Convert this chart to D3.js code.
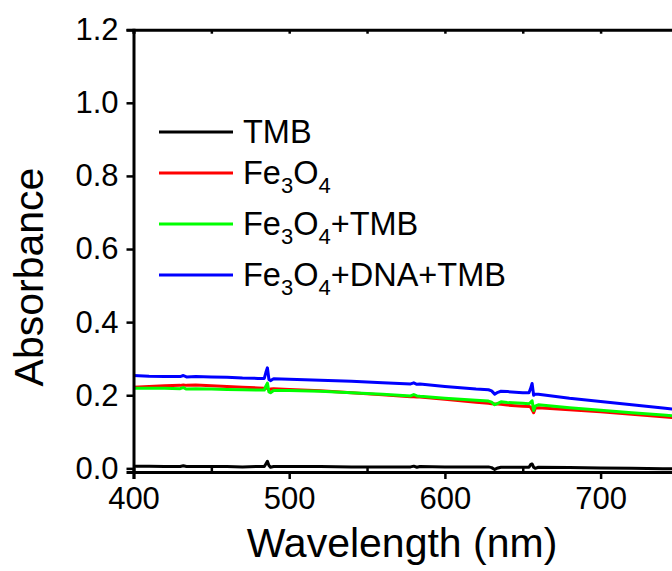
<!DOCTYPE html>
<html><head><meta charset="utf-8">
<script src="https://cdn.jsdelivr.net/npm/d3@7"></script>
<style>body{margin:0;background:#fff}svg{display:block}text{font-family:"Liberation Sans",Arial,sans-serif;fill:#000}</style>
</head><body><svg id="c" width="672" height="571"></svg>
<script>
const wavelength = [400,410,420,430,432,434,440,450,460,470,480,484,485,486,487,488,490,500,520,540,560,578,580,582,584,600,620,628,630,632,634,636,640,650,654,655,656,657,658,660,680,700,720,740,760,780,800];
const tmb = [0.006,0.006,0.005,0.005,0.007,0.005,0.005,0.005,0.005,0.004,0.005,0.005,0.012,0.019,0.008,0.003,0.005,0.005,0.005,0.004,0.004,0.004,0.006,0.003,0.005,0.004,0.004,0.004,0.002,-0.003,0.001,0.003,0.003,0.003,0.003,0.010,0.012,0.003,0.000,0.003,0.002,0.001,0.000,-0.001,-0.002,-0.002,-0.003];
const fe3o4 = [0.222,0.224,0.226,0.227,0.228,0.227,0.228,0.226,0.224,0.222,0.220,0.219,0.219,0.220,0.213,0.217,0.218,0.216,0.212,0.207,0.201,0.196,0.196,0.195,0.195,0.189,0.181,0.178,0.177,0.176,0.176,0.175,0.173,0.170,0.169,0.168,0.160,0.152,0.164,0.166,0.160,0.155,0.148,0.141,0.134,0.127,0.120];
const fe3o4Tmb = [0.219,0.219,0.219,0.218,0.221,0.217,0.218,0.217,0.216,0.215,0.214,0.214,0.225,0.233,0.209,0.207,0.213,0.213,0.211,0.207,0.203,0.198,0.202,0.198,0.197,0.192,0.186,0.184,0.181,0.174,0.178,0.182,0.180,0.178,0.177,0.180,0.185,0.158,0.170,0.174,0.166,0.159,0.152,0.146,0.139,0.132,0.125];
const fe3o4DnaTmb = [0.254,0.252,0.251,0.251,0.254,0.250,0.251,0.250,0.249,0.247,0.246,0.246,0.262,0.275,0.243,0.240,0.245,0.244,0.241,0.238,0.234,0.231,0.234,0.230,0.231,0.224,0.217,0.215,0.212,0.203,0.208,0.211,0.210,0.207,0.207,0.218,0.232,0.200,0.203,0.203,0.192,0.183,0.174,0.165,0.156,0.147,0.138];
const seriesNames = ["TMB","Fe3O4","Fe3O4+TMB","Fe3O4+DNA+TMB"];
const seriesColors = ["#000000","#ff0000","#00ff00","#0000ff"];
const seriesValues = [tmb, fe3o4, fe3o4Tmb, fe3o4DnaTmb];
const xTicks = [400,500,600,700];
const yTicks = [0,0.2,0.4,0.6,0.8,1.0,1.2];

const svg = d3.select("#c");
const x = d3.scaleLinear().domain([400,800]).range([133.5,756.3]);
const y = d3.scaleLinear().domain([-0.01,1.2]).range([472,29.7]);

// data lines
const line = d3.line().x(d=>x(d[0])).y(d=>y(d[1]));
seriesValues.forEach((vals,i)=>{
  svg.append("path").datum(wavelength.map((w,j)=>[w,vals[j]]))
    .attr("d",line).attr("fill","none").attr("stroke",seriesColors[i])
    .attr("stroke-width",3).attr("stroke-linejoin","round");
});

// frame
const fs = 31;
const gx = svg.append("g").attr("transform",`translate(0,${y(-0.01)})`)
  .call(d3.axisBottom(x).tickValues(xTicks).tickFormat(d3.format("d")).tickSize(7).tickPadding(8));
const gxm = svg.append("g").attr("transform",`translate(0,${y(-0.01)})`)
  .call(d3.axisTop(x).tickValues([450,550,650,750]).tickSize(4).tickFormat(""));
const gt = svg.append("g").attr("transform",`translate(0,${y(1.2)})`)
  .call(d3.axisBottom(x).tickValues([400,450,500,550,600,650,700,750,800]).tickSize(4).tickFormat(""));
const gy = svg.append("g").attr("transform",`translate(${x(400)},0)`)
  .call(d3.axisLeft(y).tickValues(yTicks).tickFormat(d3.format(".1f")).tickSize(7).tickPadding(8));
[gx,gxm,gt,gy].forEach(g=>{
  g.select(".domain").attr("stroke","#000").attr("stroke-width",3);
  g.selectAll(".tick line").attr("stroke","#000").attr("stroke-width",2.5);
  g.selectAll("text").style("font-size",fs+"px").style("font-family","Liberation Sans, Arial, sans-serif").attr("fill","#000");
});
gx.selectAll("text").attr("dy","0.71em");

// axis titles
svg.append("text").attr("x",402).attr("y",557).attr("text-anchor","middle")
  .style("font-size","41px").text("Wavelength (nm)");
svg.append("text").attr("transform","translate(43,277) rotate(-90)").attr("text-anchor","middle")
  .style("font-size","41px").text("Absorbance");

// legend
const legY = [132,173,224,275];
const legLabels = [
  [["TMB",false]],
  [["Fe",false],["3",true],["O",false],["4",true]],
  [["Fe",false],["3",true],["O",false],["4",true],["+TMB",false]],
  [["Fe",false],["3",true],["O",false],["4",true],["+DNA+TMB",false]]
];
seriesNames.forEach((n,i)=>{
  svg.append("line").attr("x1",159).attr("x2",233).attr("y1",legY[i]).attr("y2",legY[i])
    .attr("stroke",seriesColors[i]).attr("stroke-width",3);
  const t = svg.append("text").attr("x",243).attr("y",legY[i]+11).style("font-size","32.5px");
  legLabels[i].forEach(([s,sub],k)=>{
    const ts = t.append("tspan").text(s);
    if(sub){ ts.style("font-size","22px").attr("dy", 9); }
    else if(k>0){ ts.attr("dy",-9); }
  });
});
</script></body></html>
